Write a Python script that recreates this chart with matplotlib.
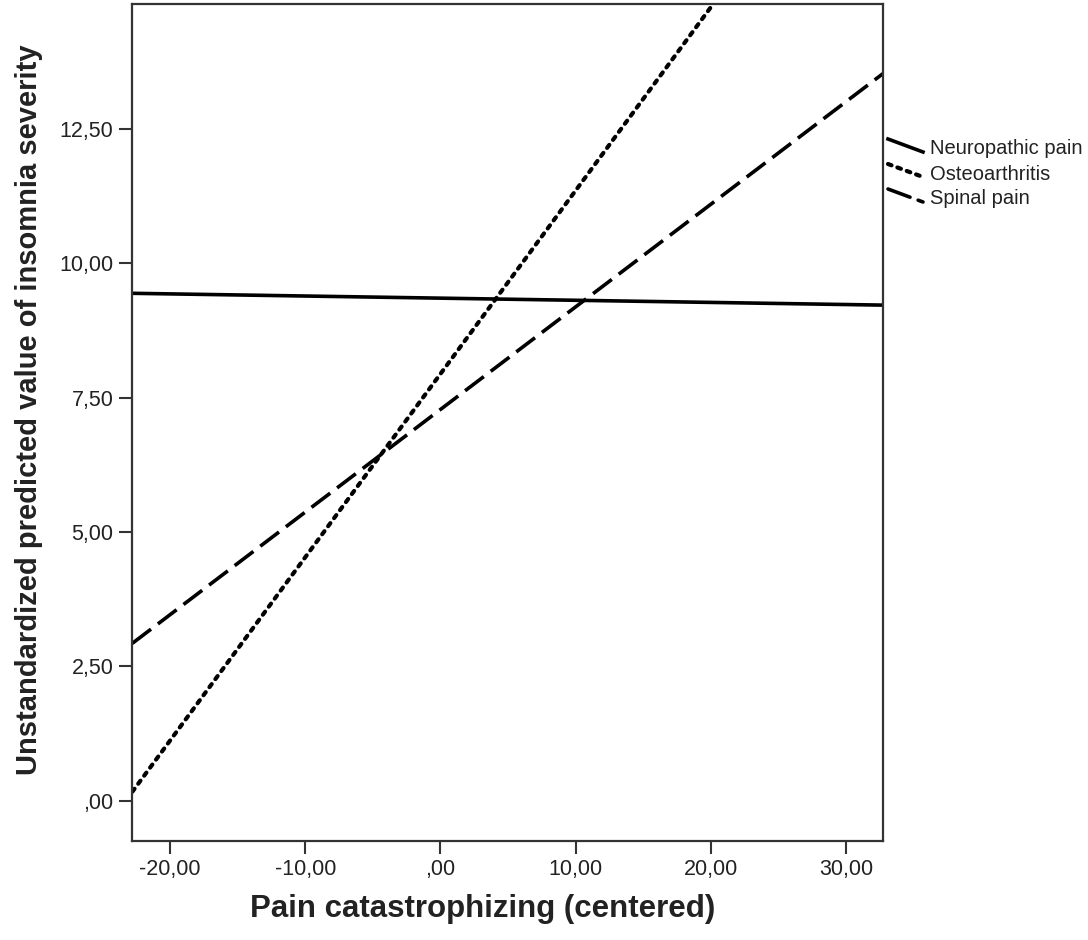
import matplotlib
matplotlib.use("Agg")
import matplotlib.pyplot as plt
from matplotlib.lines import Line2D
import numpy as np

plt.rcParams['font.family'] = ['Liberation Sans', 'DejaVu Sans']

# Data: predicted values at min and max of centered pain catastrophizing
x_range = [-22.79, 32.76]
neuropathic = [9.44, 9.22]
osteoarthritis = [0.17, 19.11]
spinal = [2.93, 13.53]
series_names = ["Neuropathic pain", "Osteoarthritis", "Spinal pain"]

x_ticks = [-20, -10, 0, 10, 20, 30]
x_tick_labels = ["-20,00", "-10,00", ",00", "10,00", "20,00", "30,00"]
y_ticks = [0, 2.5, 5, 7.5, 10, 12.5]
y_tick_labels = [",00", "2,50", "5,00", "7,50", "10,00", "12,50"]

fig = plt.figure(figsize=(10.88, 9.40), dpi=100)
ax = fig.add_axes([132.3/1088, 1-840.7/940, (883.3-132.3)/1088, (840.7-4)/940])

lw = 2.6
dot_style = (0, (0.9, 1.5))
dash_style = (0, (6.5, 2.4))
ax.plot(x_range, neuropathic, color='black', lw=lw, solid_capstyle='butt')
ax.plot(x_range, osteoarthritis, color='black', lw=lw + 0.4, linestyle=dot_style,
        dash_capstyle='round')
ax.plot(x_range, spinal, color='black', lw=lw, linestyle=dash_style)

ax.set_xlim(-22.79, 32.76)
ax.set_ylim(-0.74, 14.82)
ax.set_xticks(x_ticks)
ax.set_xticklabels(x_tick_labels)
ax.set_yticks(y_ticks)
ax.set_yticklabels(y_tick_labels)
ax.tick_params(axis='both', direction='out', length=9.5, width=1.5, colors='#333333',
               labelsize=15.5, labelcolor='#222222', pad=4)
ax.tick_params(top=False, right=False)
for s in ax.spines.values():
    s.set_linewidth(1.6)
    s.set_color('#333333')

ax.set_xlabel("Pain catastrophizing (centered)", fontsize=22.5, fontweight='bold',
              color='#222222')
ax.xaxis.set_label_coords(0.467, -0.0816)
ax.xaxis.label.set_va('center')
ax.set_ylabel("Unstandardized predicted value of insomnia severity", fontsize=21,
              fontweight='bold', color='#222222')
ax.yaxis.set_label_coords(-0.137, 0.515)
ax.yaxis.label.set_va('center')

# Legend with slanted line samples (as in the original)
styles = ['-', dot_style, dash_style]
widths = [lw, lw + 0.4, lw]
rows_y = [148, 173, 198]
for name, ls, w, yc in zip(series_names, styles, widths, rows_y):
    x0, x1 = 888/1088, 923/1088
    y0, y1 = 1-(yc-9)/940, 1-(yc+4)/940
    ln = Line2D([x0, x1], [y0, y1], transform=fig.transFigure, color='black',
                lw=w, linestyle=ls, dash_capstyle='round')
    fig.add_artist(ln)
    fig.text(930/1088, 1-(yc+1)/940, name, fontsize=14.5, va='center', ha='left',
             color='#222222')

fig.savefig("out.png", dpi=100)
